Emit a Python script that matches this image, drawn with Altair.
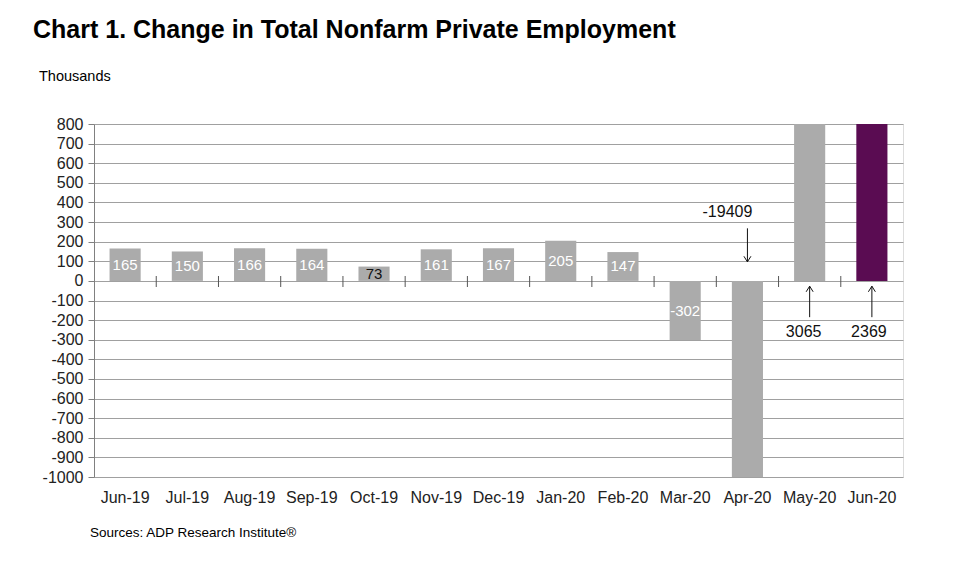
import altair as alt
import pandas as pd

# ---- data ----
months = ["Jun-19", "Jul-19", "Aug-19", "Sep-19", "Oct-19", "Nov-19", "Dec-19",
          "Jan-20", "Feb-20", "Mar-20", "Apr-20", "May-20", "Jun-20"]
values = [165, 150, 166, 164, 73, 161, 167, 205, 147, -302, -19409, 3065, 2369]
highlight_month = "Jun-20"

# labels drawn inside the bars (first ten months)
inside_months = months[:10]
inside_values = values[:10]

# call-out annotations for bars beyond the axis range
ann_months = ["Apr-20", "May-20", "Jun-20"]
ann_labels = ["-19409", "3065", "2369"]
ann_dir = ["down", "up", "up"]
ann_tail = [268, -185, -185]
ann_tip = [97, -27, -27]
ann_text_y = [352, -262, -262]
ann_text_dx = [-20, -6, -3]

y_ticks = list(range(-1000, 801, 100))

title_text = "Chart 1. Change in Total Nonfarm Private Employment"
unit_text = "Thousands"
source_text = "Sources: ADP Research Institute®"

FONT = "Liberation Sans"
GRAY = "#ABABAB"
PURPLE = "#5A0C52"

df = pd.DataFrame({"month": months, "value": values})
df_in = pd.DataFrame({"month": inside_months, "value": inside_values})
df_ann = pd.DataFrame({"month": ann_months, "label": ann_labels, "dir": ann_dir,
                       "tail": ann_tail, "tip": ann_tip, "ty": ann_text_y})
df_bound = pd.DataFrame({"month": months[1:]})

xscale = alt.Scale(domain=months, paddingInner=0.5, paddingOuter=0.25)
yscale = alt.Scale(domain=[-1000, 800], nice=False, zero=False)

x_axis = alt.Axis(title=None, labelAngle=0, domain=False, ticks=False,
                  labelPadding=12, labelFontSize=16, labelFont=FONT,
                  labelColor="#222222")
y_axis = alt.Axis(title=None, values=y_ticks, grid=True, gridColor="#A0A0A0",
                  gridWidth=1, domainColor="#808080", tickColor="#808080",
                  tickSize=6, labelPadding=5, labelFontSize=16, labelFont=FONT,
                  labelColor="#222222", labelOverlap=False,
                  labelExpr="'' + datum.value")


def X():
    return alt.X("month:N", sort=months, scale=xscale, axis=x_axis)


def Y(field):
    return alt.Y(field, scale=yscale, axis=y_axis)


bars = alt.Chart(df).mark_bar(clip=True).encode(
    x=X(),
    y=Y("value:Q"),
    color=alt.condition(alt.datum.month == highlight_month, alt.value(PURPLE), alt.value(GRAY)),
)

inside = alt.Chart(df_in).transform_calculate(
    mid="datum.value / 2", lab="'' + datum.value"
).mark_text(
    fontSize=15, font=FONT, baseline="middle", align="center"
).encode(
    x=X(),
    y=Y("mid:Q"),
    text="lab:N",
    color=alt.condition("datum.value > 0 && datum.value < 100", alt.value("#111111"), alt.value("white")),
)

bound_ticks = alt.Chart(df_bound).mark_rule(color="#555555", xOffset=-31.1).encode(
    x=X(),
    y=alt.value(152),
    y2=alt.value(163),
)

path_down = "M-1,-1.6L0,0L1,-1.6"
path_up = "M-1,1.6L0,0L1,1.6"

shafts = alt.Chart(df_ann).mark_rule(color="#111111", strokeWidth=1).encode(
    x=X(),
    y=Y("tail:Q"),
    y2="tip:Q",
)
heads = alt.Chart(df_ann).mark_point(filled=False, color="#111111", strokeWidth=1, size=49, opacity=1).encode(
    x=X(),
    y=Y("tip:Q"),
    shape=alt.Shape("dir:N", scale=alt.Scale(domain=["down", "up"], range=[path_down, path_up]), legend=None),
)

ann_text_layers = []
for i in range(len(ann_months)):
    sub = df_ann.iloc[[i]]
    ann_text_layers.append(
        alt.Chart(sub).mark_text(fontSize=16, font=FONT, color="#111111", baseline="middle",
                                 dx=int(ann_text_dx[i])).encode(
            x=X(),
            y=Y("ty:Q"),
            text="label:N",
        )
    )


def free_text(txt, x, y, size, bold=False, align="left"):
    return alt.Chart(pd.DataFrame({"t": [txt]})).mark_text(
        fontSize=size, font=FONT, fontWeight="bold" if bold else "normal",
        align=align, baseline="middle", color="#000000"
    ).encode(text="t:N", x=alt.value(x), y=alt.value(y))


title = free_text(title_text, -61, -94, 25, bold=True)
unit = free_text(unit_text, -55, -47, 14.5)
source = free_text(source_text, -4, 409, 13.5)

chart = alt.layer(
    bars, inside, bound_ticks, shafts, heads, *ann_text_layers, title, unit, source
).properties(
    width=809, height=353,
    autosize=alt.AutoSizeParams(type="none"),
    padding={"left": 86, "top": 116, "right": 49, "bottom": 80},
).configure_view(stroke="#A0A0A0").configure(background="white")

chart.save("out.html", embed_options={"renderer": "svg", "actions": False})
